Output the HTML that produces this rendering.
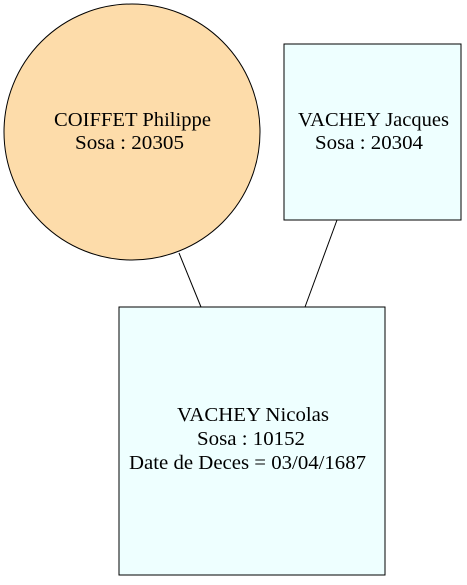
<!DOCTYPE html>
<html><head><style>body{margin:0;background:#fff}</style></head><body>
<svg width="467" height="580" xmlns="http://www.w3.org/2000/svg" font-family="Liberation Serif, serif" font-size="20" text-anchor="middle">
<rect width="467" height="580" fill="#fff"/>
<line x1="179" y1="253" x2="201" y2="307" stroke="#000"/>
<line x1="337" y1="220" x2="305" y2="307" stroke="#000"/>
<circle cx="132" cy="132" r="128" fill="#fddcaa" stroke="#000"/>
<text x="132.5" y="126" textLength="157" lengthAdjust="spacingAndGlyphs">COIFFET Philippe</text>
<text x="129.5" y="149" textLength="109" lengthAdjust="spacingAndGlyphs">Sosa : 20305</text>
<rect x="284" y="44" width="177" height="176" fill="#eeffff" stroke="#000"/>
<text x="373.5" y="126" textLength="151" lengthAdjust="spacingAndGlyphs">VACHEY Jacques</text>
<text x="369" y="149" textLength="108" lengthAdjust="spacingAndGlyphs">Sosa : 20304</text>
<rect x="119" y="307" width="266" height="268" fill="#eeffff" stroke="#000"/>
<text x="253" y="421" textLength="152" lengthAdjust="spacingAndGlyphs">VACHEY Nicolas</text>
<text x="251" y="445" textLength="108" lengthAdjust="spacingAndGlyphs">Sosa : 10152</text>
<text x="247.5" y="469" textLength="237" lengthAdjust="spacingAndGlyphs">Date de Deces = 03/04/1687</text>
</svg>
</body></html>
